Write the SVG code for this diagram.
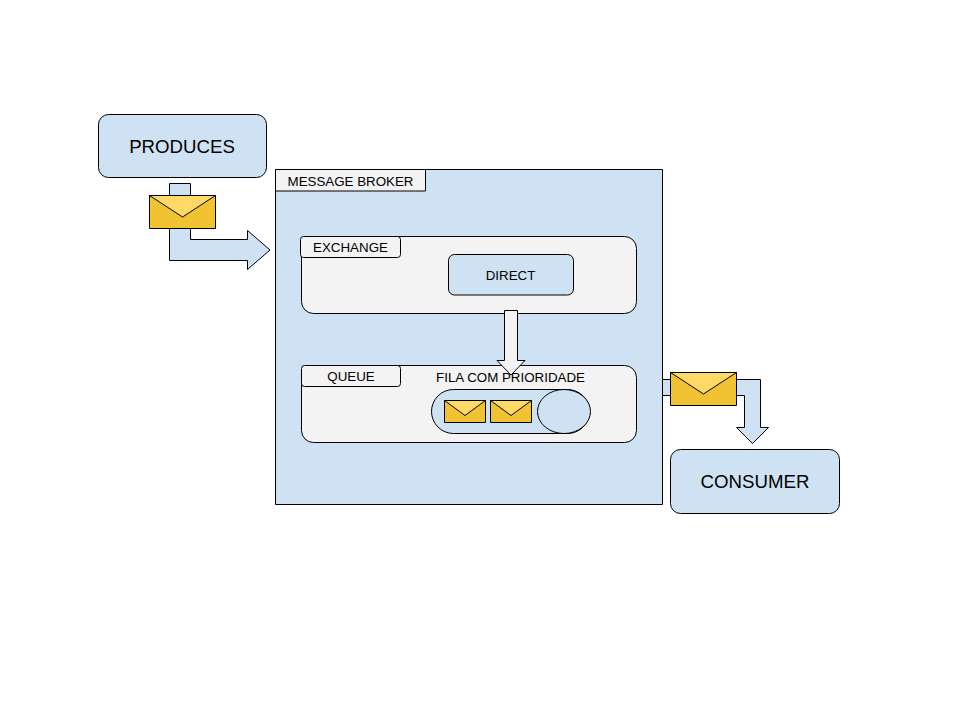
<svg xmlns="http://www.w3.org/2000/svg" width="960" height="720" viewBox="0 0 960 720">
<style>
text{font-family:"Liberation Sans",Arial,sans-serif;fill:#000;text-anchor:middle}
.s{stroke:#000;stroke-width:1;stroke-linejoin:round}
.b{fill:#cfe2f3}.g{fill:#f3f3f3}
.t13{font-size:13.330px}.t18{font-size:18.670px}
.body{fill:#f1c232}.flap{fill:#ffd966}
</style>
<defs>
<g id="env20"><rect class="s body" x="0" y="0" width="66" height="33"/><path class="s flap" d="M0 0H66L33 21.500Z"/></g>
<g id="env14"><rect class="s body" x="0" y="0" width="41" height="22"/><path class="s flap" d="M0 0H41L20.500 15Z"/></g>
</defs>
<rect width="960" height="720" fill="#fff"/>
<g id="produces"><rect class="s b" x="98.500" y="114.500" width="168" height="63" rx="10"/><text class="t18" x="182" y="152.500">PRODUCES</text></g>
<g id="broker"><rect class="s b" x="275.500" y="169.500" width="387" height="335"/><rect class="s g" x="275.500" y="169.500" width="150" height="21.500"/><text class="t13" x="350.500" y="185.500">MESSAGE BROKER</text></g>
<g id="exchange"><rect class="s g" x="301.500" y="236.500" width="335" height="77" rx="12"/><rect class="s g" x="300.500" y="236.500" width="100" height="21" rx="3"/><text class="t13" x="350.500" y="252">EXCHANGE</text></g>
<g id="direct"><rect class="s b" x="448.500" y="254.500" width="125" height="40.500" rx="6"/><text class="t13" x="510.500" y="279.500">DIRECT</text></g>
<g id="queue"><rect class="s g" x="301.500" y="365.500" width="335" height="77" rx="12"/><rect class="s g" x="301.500" y="365.500" width="99" height="21" rx="3"/><text class="t13" x="351" y="380.500">QUEUE</text>
<text class="t13" x="510.500" y="381.500">FILA COM PRIORIDADE</text></g>
<g id="pill"><rect class="s b" x="431.500" y="389.500" width="158" height="44" rx="22"/><ellipse class="s b" cx="564" cy="411.500" rx="26.500" ry="22"/><use href="#env14" x="444.500" y="400.500"/><use href="#env14" x="490.500" y="400.500"/></g>
<g id="consumer"><rect class="s b" x="670.500" y="449.500" width="169" height="64" rx="10"/><text class="t18" x="755" y="487.500">CONSUMER</text></g>
<g id="connectors">
<path class="s b" d="M169.500 183.500H190.500V239.500H247.500V230.500L270 250L247.500 269.500V260.500H169.500Z"/>
<path class="s g" d="M504.500 310.500H517.500V360.500H525L511 375L497 360.500H504.500Z"/>
<path class="s b" d="M662.500 379.500H760.500V427.500H768.500L752.500 443.500L736.500 427.500H744.500V395.500H662.500Z"/>
</g>
<g id="message-in"><use href="#env20" x="149.500" y="195.500"/></g>
<g id="message-out"><use href="#env20" x="670.500" y="372.500"/></g>
</svg>
